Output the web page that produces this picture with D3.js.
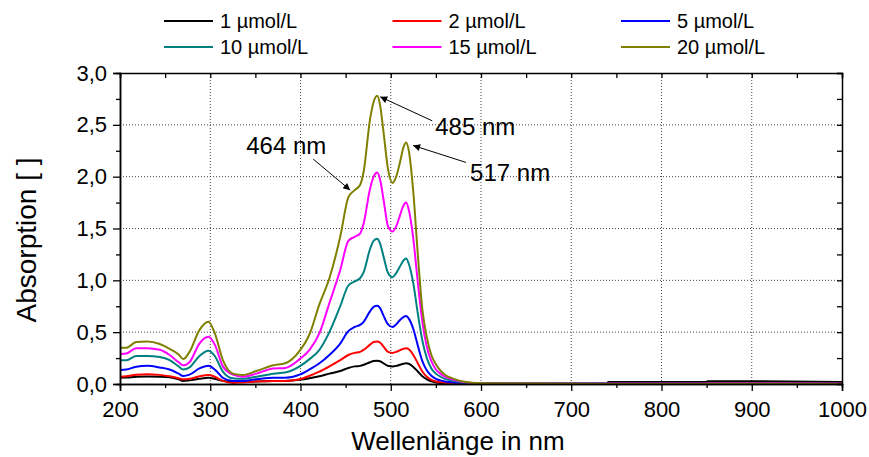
<!DOCTYPE html>
<html>
<head>
<meta charset="utf-8">
<script src="https://cdn.jsdelivr.net/npm/d3@7"></script>
<style>
  body { margin: 0; background: #fff; }
  svg text { font-family: "Liberation Sans", Arial, sans-serif; fill: #000; }
</style>
</head>
<body>
<script>
var wavelengths = [200, 207, 218, 230, 244, 255, 265, 270, 277, 288, 298, 305, 314, 325, 336, 351, 370, 383, 399,
    410, 421, 432, 444, 453, 460, 466, 470, 477, 481, 485, 488, 492, 497, 502, 506, 510, 514, 517, 520,
    525, 530, 535, 540, 545, 550, 555, 560, 570, 580, 600, 740, 741, 850, 851, 910, 1000]

var seriesNames = ["1 µmol/L", "2 µmol/L", "5 µmol/L", "10 µmol/L", "15 µmol/L", "20 µmol/L"]
var seriesColors = ["#000000", "#ff0000", "#0000ff", "#008080", "#ff00ff", "#808000"]

var abs1 = [0.06, 0.062, 0.07, 0.072, 0.07, 0.065, 0.045, 0.03, 0.035, 0.05, 0.06, 0.05, 0.03, 0.02, 0.02, 0.025, 0.03, 0.03, 0.04,
    0.055, 0.075, 0.1, 0.125, 0.155, 0.17, 0.175, 0.185, 0.21, 0.222, 0.225, 0.22, 0.2, 0.175, 0.17, 0.175, 0.185, 0.195, 0.2, 0.195,
    0.165, 0.12, 0.075, 0.045, 0.025, 0.015, 0.01, 0.008, 0.006, 0.005, 0.005, 0.007, 0.019, 0.019, 0.027, 0.026, 0.02]
var abs2 = [0.07, 0.075, 0.09, 0.095, 0.088, 0.075, 0.055, 0.045, 0.05, 0.075, 0.088, 0.07, 0.03, 0.01, 0.015, 0.025, 0.03, 0.03, 0.045,
    0.08, 0.12, 0.17, 0.23, 0.28, 0.3, 0.31, 0.33, 0.38, 0.405, 0.41, 0.4, 0.36, 0.31, 0.3, 0.31, 0.325, 0.34, 0.345, 0.335,
    0.28, 0.2, 0.12, 0.07, 0.04, 0.025, 0.018, 0.012, 0.008, 0.005, 0.003, 0.002, 0.006, 0.006, 0.007, 0.007, 0.006]
var abs5 = [0.135, 0.14, 0.167, 0.175, 0.16, 0.14, 0.1, 0.077, 0.09, 0.15, 0.175, 0.14, 0.06, 0.03, 0.03, 0.045, 0.06, 0.06, 0.09,
    0.14, 0.2, 0.28, 0.39, 0.51, 0.55, 0.57, 0.6, 0.7, 0.745, 0.755, 0.735, 0.66, 0.575, 0.55, 0.575, 0.615, 0.645, 0.655, 0.63,
    0.53, 0.37, 0.22, 0.13, 0.08, 0.05, 0.035, 0.025, 0.015, 0.01, 0.004, 0.002, 0.002, 0.002, 0.002, 0.002, 0.002]
var abs10 = [0.23, 0.23, 0.27, 0.27, 0.26, 0.23, 0.17, 0.14, 0.16, 0.27, 0.32, 0.27, 0.12, 0.055, 0.05, 0.07, 0.1, 0.11, 0.17,
    0.24, 0.33, 0.5, 0.75, 0.95, 0.99, 1.02, 1.08, 1.3, 1.38, 1.4, 1.36, 1.23, 1.07, 1.03, 1.07, 1.13, 1.19, 1.21, 1.16,
    0.97, 0.68, 0.42, 0.25, 0.15, 0.1, 0.07, 0.05, 0.03, 0.015, 0.005, 0.002, 0.002, 0.002, 0.002, 0.002, 0.002]
var abs15 = [0.29, 0.295, 0.345, 0.345, 0.33, 0.28, 0.21, 0.18, 0.21, 0.39, 0.455, 0.38, 0.17, 0.09, 0.07, 0.1, 0.15, 0.155, 0.24,
    0.33, 0.49, 0.78, 1.1, 1.38, 1.42, 1.45, 1.55, 1.88, 2.0, 2.04, 1.98, 1.78, 1.52, 1.47, 1.52, 1.62, 1.72, 1.75, 1.68,
    1.4, 0.98, 0.6, 0.36, 0.22, 0.14, 0.1, 0.07, 0.04, 0.02, 0.006, 0.002, 0.002, 0.002, 0.002, 0.002, 0.002]
var abs20 = [0.35, 0.35, 0.405, 0.41, 0.386, 0.34, 0.285, 0.24, 0.31, 0.52, 0.6, 0.49, 0.23, 0.1, 0.087, 0.125, 0.18, 0.2, 0.32,
    0.48, 0.77, 1.02, 1.42, 1.8, 1.87, 1.92, 2.05, 2.55, 2.72, 2.78, 2.7, 2.43, 2.07, 1.94, 2.0, 2.13, 2.28, 2.33, 2.25,
    1.85, 1.25, 0.72, 0.45, 0.28, 0.19, 0.13, 0.09, 0.05, 0.025, 0.007, 0.001, 0.001, 0.001, 0.001, 0.001, 0.001]

var xTicks = [200, 300, 400, 500, 600, 700, 800, 900, 1000]
var yTicks = [0, 0.5, 1.0, 1.5, 2.0, 2.5, 3.0]

/* peak labels: wavelength, absorbance of the 20 µmol/L curve there */
var peakLabels = ["464 nm", "485 nm", "517 nm"]
var peakWavelengths = [464, 485, 517]
var peakValues = [1.87, 2.78, 2.33]

var width = 869, height = 457
var margin = { left: 120, right: 27, top: 73, bottom: 73 }

var svg = d3.select("body").append("svg")
    .attr("width", width)
    .attr("height", height)

var x = d3.scaleLinear().domain([200, 1000]).range([margin.left, width - margin.right])
var y = d3.scaleLinear().domain([0, 3]).range([height - margin.bottom, margin.top])

var fmt = function(d) { return d3.format(".1f")(d).replace(".", ",") }
var minorX = d3.range(250, 1000, 100)
var minorY = d3.range(0.25, 3, 0.5)

/* dotted grid */
svg.append("g").selectAll("line")
    .data(xTicks.slice(1, -1)).enter().append("line")
    .attr("x1", function(d) { return x(d) }).attr("x2", function(d) { return x(d) })
    .attr("y1", y(0)).attr("y2", y(3))
    .attr("stroke", "#444").attr("stroke-width", 1).attr("stroke-dasharray", "1,2")
svg.append("g").selectAll("line")
    .data(yTicks.slice(1, -1)).enter().append("line")
    .attr("y1", function(d) { return y(d) }).attr("y2", function(d) { return y(d) })
    .attr("x1", x(200)).attr("x2", x(1000))
    .attr("stroke", "#444").attr("stroke-width", 1).attr("stroke-dasharray", "1,2")

/* curves: lowest concentrations drawn last in the tail so black stays visible */
var series = [abs1, abs2, abs5, abs10, abs15, abs20]
var line = d3.line()
    .x(function(d) { return x(d[0]) })
    .y(function(d) { return y(d[1]) })
    .curve(d3.curveMonotoneX)

svg.append("g").selectAll("path")
    .data(series).enter().append("path")
    .attr("d", function(s) { return line(wavelengths.map(function(w, i) { return [w, s[i]] })) })
    .attr("fill", "none")
    .attr("stroke", function(s, i) { return seriesColors[i] })
    .attr("stroke-width", 2)

/* axes */
function styleAxis(g) {
    g.select(".domain").attr("stroke-width", 1.5)
    g.selectAll(".tick line").attr("stroke-width", 1.3)
    g.selectAll("text").attr("font-size", "22px").attr("font-family", "Liberation Sans, Arial, sans-serif")
}

svg.append("g").attr("transform", "translate(0," + y(0) + ")")
    .call(d3.axisBottom(x).tickValues(minorX).tickSize(4).tickFormat(""))
    .call(styleAxis)
svg.append("g").attr("transform", "translate(0," + y(0) + ")")
    .call(d3.axisBottom(x).tickValues(xTicks).tickSize(7).tickPadding(10).tickFormat(d3.format("d")))
    .call(styleAxis)

svg.append("g").attr("transform", "translate(" + x(200) + ",0)")
    .call(d3.axisLeft(y).tickValues(minorY).tickSize(4).tickFormat(""))
    .call(styleAxis)
svg.append("g").attr("transform", "translate(" + x(200) + ",0)")
    .call(d3.axisLeft(y).tickValues(yTicks).tickSize(7).tickPadding(6).tickFormat(fmt))
    .call(styleAxis)

svg.append("g").attr("transform", "translate(0," + y(3) + ")")
    .call(d3.axisTop(x).tickValues(xTicks.concat(minorX)).tickSize(-5).tickFormat(""))
    .call(styleAxis)
svg.append("g").attr("transform", "translate(" + x(1000) + ",0)")
    .call(d3.axisRight(y).tickValues(yTicks.concat(minorY)).tickSize(-5).tickFormat(""))
    .call(styleAxis)

/* axis titles */
svg.append("text")
    .attr("x", 458).attr("y", 450)
    .attr("text-anchor", "middle")
    .attr("font-size", "26px")
    .text("Wellenlänge in nm")

svg.append("text")
    .attr("transform", "translate(36,240) rotate(-90)")
    .attr("text-anchor", "middle")
    .attr("font-size", "28px")
    .text("Absorption [ ]")

/* legend */
var legend = svg.append("g").selectAll("g")
    .data(seriesNames).enter().append("g")
    .attr("transform", function(d, i) {
        var col = i % 3, row = Math.floor(i / 3)
        return "translate(" + (164 + col * 228.5) + "," + (21 + row * 26) + ")"
    })
legend.append("line")
    .attr("x1", 0).attr("x2", 49)
    .attr("stroke", function(d, i) { return seriesColors[i] })
    .attr("stroke-width", 2)
legend.append("text")
    .attr("x", 56).attr("y", 7)
    .attr("font-size", "20px")
    .text(function(d) { return d })

/* peak annotations */
var defs = svg.append("defs")
defs.append("marker")
    .attr("id", "arrow")
    .attr("viewBox", "0 0 10 10")
    .attr("refX", 10).attr("refY", 5)
    .attr("markerWidth", 12).attr("markerHeight", 7)
    .attr("markerUnits", "userSpaceOnUse")
    .attr("orient", "auto")
    .append("path").attr("d", "M0,0 L10,5 L0,10 z").attr("fill", "#000")

// tip offset from the peak, tail offset from the tip, text offset from the tip
var tipOff = [[-8, 0], [3, 1], [7, 3]]
var tailOff = [[-37, -31], [52, 24], [53, 17]]
var textOff = [[-104, -36], [55, 38], [57, 36]]

peakLabels.forEach(function(label, i) {
    var tx = x(peakWavelengths[i]) + tipOff[i][0]
    var ty = y(peakValues[i]) + tipOff[i][1]
    svg.append("line")
        .attr("x1", tx + tailOff[i][0]).attr("y1", ty + tailOff[i][1])
        .attr("x2", tx).attr("y2", ty)
        .attr("stroke", "#000").attr("stroke-width", 1)
        .attr("marker-end", "url(#arrow)")
    svg.append("text")
        .attr("x", tx + textOff[i][0]).attr("y", ty + textOff[i][1])
        .attr("font-size", "24px")
        .text(label)
})
</script>
</body>
</html>
